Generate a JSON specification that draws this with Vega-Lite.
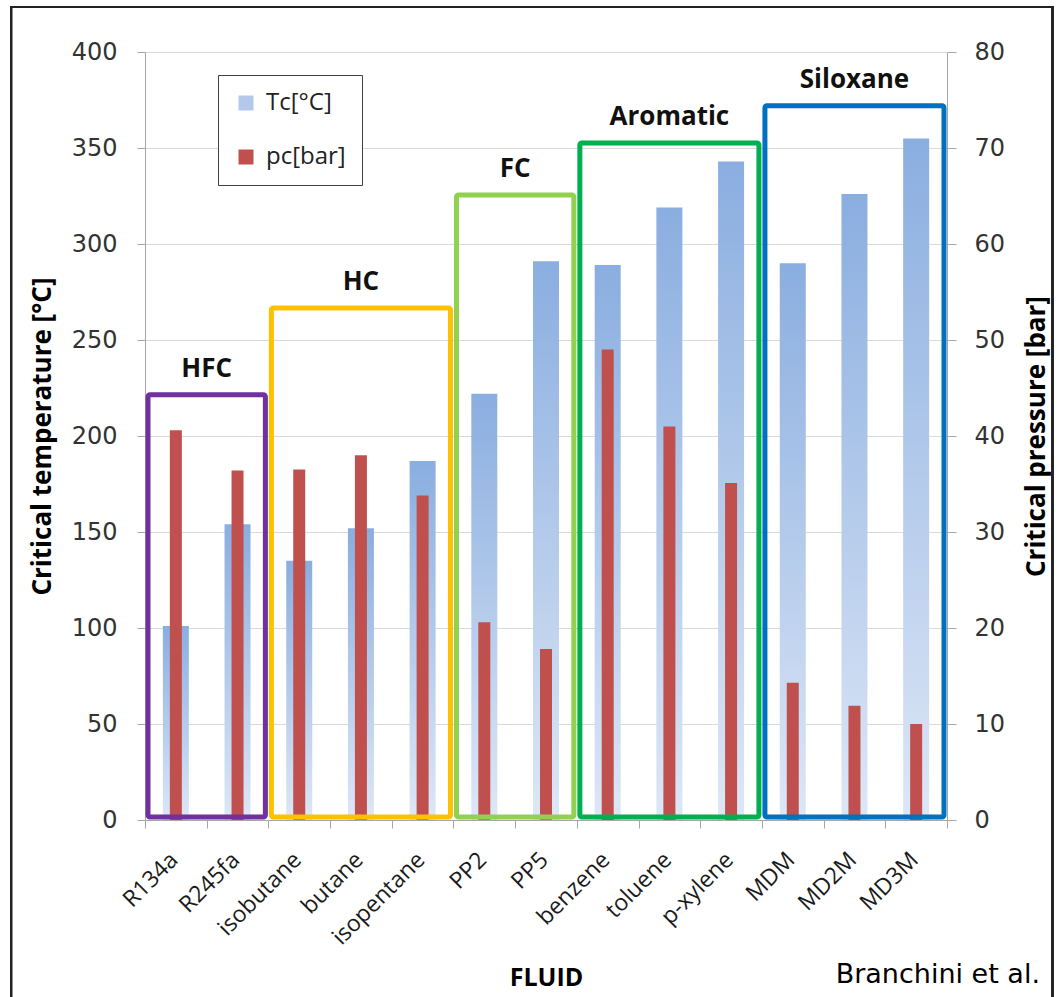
{
  "$schema": "https://vega.github.io/schema/vega-lite/v6.json",
  "width": 802,
  "height": 768,
  "autosize": {"type": "none"},
  "padding": {"left": 145, "top": 52, "right": 114, "bottom": 177},
  "background": "white",
  "config": {"view": {"stroke": null}, "font": "Open Sans"},
  "title": {
    "text": "Branchini et al.",
    "orient": "bottom",
    "anchor": "end",
    "frame": "group",
    "font": "DejaVu Sans",
    "fontSize": 27,
    "fontWeight": "normal",
    "color": "#000000",
    "dx": 93,
    "dy": -43
  },
  "layer": [
    {
      "data": {
        "values": [
          {"fluid": "R134a", "Tc": 101, "pc": 40.6},
          {"fluid": "R245fa", "Tc": 154, "pc": 36.4},
          {"fluid": "isobutane", "Tc": 135, "pc": 36.5},
          {"fluid": "butane", "Tc": 152, "pc": 38.0},
          {"fluid": "isopentane", "Tc": 187, "pc": 33.8},
          {"fluid": "PP2", "Tc": 222, "pc": 20.6},
          {"fluid": "PP5", "Tc": 291, "pc": 17.8},
          {"fluid": "benzene", "Tc": 289, "pc": 49.0},
          {"fluid": "toluene", "Tc": 319, "pc": 41.0},
          {"fluid": "p-xylene", "Tc": 343, "pc": 35.1},
          {"fluid": "MDM", "Tc": 290, "pc": 14.3},
          {"fluid": "MD2M", "Tc": 326, "pc": 11.9},
          {"fluid": "MD3M", "Tc": 355, "pc": 10.0}
        ]
      },
      "layer": [
        {
          "mark": {
            "type": "bar",
            "width": 26,
            "fill": {
              "gradient": "linear",
              "x1": 0, "y1": 0, "x2": 0, "y2": 1,
              "stops": [
                {"offset": 0, "color": "#8aaee0"},
                {"offset": 1, "color": "#dde7f6"}
              ]
            }
          },
          "encoding": {
            "x": {
              "field": "fluid",
              "type": "nominal",
              "sort": null,
              "scale": {"paddingInner": 0, "paddingOuter": 0},
              "axis": {
                "title": "FLUID",
                "titleFont": "Open Sans",
                "titleFontSize": 25,
                "titleFontWeight": "bold",
                "titleColor": "#000000",
                "titleY": 145,
                "titleBaseline": "top",
                "labelAngle": -45,
                "labelAlign": "right",
                "labelBaseline": "middle",
                "labelFont": "Open Sans",
                "labelFontSize": 23,
                "labelColor": "#1a1a1a",
                "labelPadding": 28,
                "labelOffset": -2,
                "tickBand": "extent",
                "tickSize": 8,
                "tickColor": "#a6a6a6",
                "domainColor": "#a6a6a6",
                "grid": false
              }
            },
            "y": {
              "field": "Tc",
              "type": "quantitative",
              "scale": {"domain": [0, 400], "nice": false},
              "axis": {
                "title": "Critical temperature [°C]",
                "titleFont": "Open Sans",
                "titleFontSize": 26,
                "titleFontWeight": "bold",
                "titleColor": "#000000",
                "titlePadding": 16,
                "labelFont": "DejaVu Sans",
                "labelFontSize": 24,
                "labelColor": "#333333",
                "labelPadding": 20,
                "values": [0, 50, 100, 150, 200, 250, 300, 350, 400],
                "tickSize": 8,
                "tickColor": "#a6a6a6",
                "domainColor": "#a6a6a6",
                "grid": true,
                "gridColor": "#d9d9d9"
              }
            }
          }
        },
        {
          "mark": {"type": "bar", "width": 12},
          "encoding": {
            "x": {"field": "fluid", "type": "nominal", "sort": null},
            "y": {
              "field": "pc",
              "type": "quantitative",
              "scale": {"domain": [0, 80], "nice": false},
              "axis": {
                "orient": "right",
                "title": "Critical pressure [bar]",
                "titleAngle": 270,
                "titleBaseline": "top",
                "titleFont": "Open Sans",
                "titleFontSize": 26,
                "titleFontWeight": "bold",
                "titleColor": "#000000",
                "titlePadding": 19,
                "labelFont": "DejaVu Sans",
                "labelFontSize": 24,
                "labelColor": "#333333",
                "labelPadding": 18,
                "values": [0, 10, 20, 30, 40, 50, 60, 70, 80],
                "tickSize": 9,
                "tickColor": "#a6a6a6",
                "domainColor": "#a6a6a6",
                "grid": false
              }
            },
            "color": {
              "datum": "pc[bar]",
              "type": "nominal",
              "scale": {"domain": ["Tc[°C]", "pc[bar]"], "range": ["#b3c8ea", "#c0504d"]},
              "legend": {
                "orient": "none",
                "legendX": 73,
                "legendY": 23,
                "title": null,
                "symbolType": "square",
                "symbolSize": 225,
                "symbolStrokeWidth": 0,
                "labelFont": "Open Sans",
                "labelFontSize": 24,
                "labelColor": "#222222",
                "labelOffset": 8,
                "rowPadding": 30,
                "padding": 16,
                "strokeColor": "#404040",
                "fillColor": "#ffffff"
              }
            }
          }
        }
      ],
      "resolve": {"scale": {"y": "independent"}}
    },
    {
      "data": {
        "values": [
          {"group": "HFC", "start": 0, "end": 2, "mid": 1, "top": 221.5, "base": 0},
          {"group": "HC", "start": 2, "end": 5, "mid": 3.5, "top": 266.7, "base": 0},
          {"group": "FC", "start": 5, "end": 7, "mid": 6, "top": 325.5, "base": 0},
          {"group": "Aromatic", "start": 7, "end": 10, "mid": 8.5, "top": 352.6, "base": 0},
          {"group": "Siloxane", "start": 10, "end": 13, "mid": 11.5, "top": 372, "base": 0}
        ]
      },
      "layer": [
        {
          "mark": {"type": "rect", "filled": false, "strokeWidth": 5, "cornerRadius": 2, "xOffset": 3, "x2Offset": -3, "y2Offset": -3},
          "encoding": {
            "x": {"field": "start", "type": "quantitative", "scale": {"domain": [0, 13], "nice": false, "zero": false}, "axis": null},
            "x2": {"field": "end"},
            "y": {"field": "top", "type": "quantitative", "scale": {"domain": [0, 400], "nice": false}, "axis": null},
            "y2": {"field": "base"},
            "stroke": {
              "field": "group",
              "type": "nominal",
              "scale": {"domain": ["HFC", "HC", "FC", "Aromatic", "Siloxane"], "range": ["#7030a0", "#ffc000", "#92d050", "#00b050", "#0070c0"]},
              "legend": null
            }
          }
        },
        {
          "mark": {"type": "text", "font": "Open Sans", "fontSize": 26, "fontWeight": "bold", "color": "#111111", "baseline": "alphabetic", "dy": -18},
          "encoding": {
            "x": {"field": "mid", "type": "quantitative"},
            "y": {"field": "top", "type": "quantitative"},
            "text": {"field": "group"}
          }
        },
        {
          "mark": {"type": "rect", "filled": false, "stroke": "#222222", "strokeWidth": 2},
          "encoding": {
            "x": {"datum": -2.17},
            "x2": {"datum": 14.71},
            "y": {"datum": 423.5},
            "y2": {"datum": -93.5}
          }
        }
      ]
    }
  ],
  "resolve": {"scale": {"x": "independent", "y": "independent"}}
}
